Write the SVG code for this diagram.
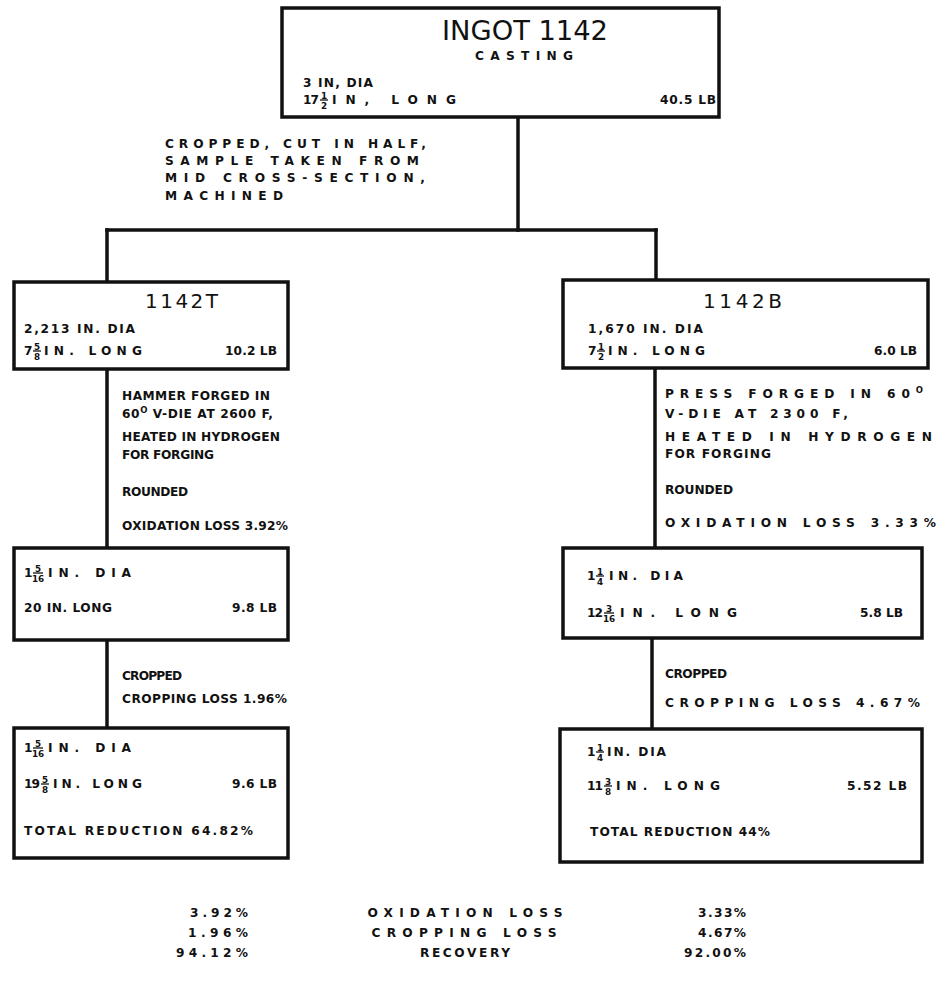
<svg xmlns="http://www.w3.org/2000/svg" width="940" height="997" viewBox="0 0 940 997">
  <style>
    .box { fill: #ffffff; stroke: #111111; stroke-width: 3.5; }
    .wire { fill: none; stroke: #111111; stroke-width: 3.5; stroke-linecap: square; }
    .bar { stroke: #111111; stroke-width: 1.3; }
    text { font-family: "DejaVu Sans", "Liberation Sans", sans-serif; fill: #111111; }
    .t { font-size: 12.2px; font-weight: bold; }
    .big { font-size: 26px; }
    .ttl { font-size: 20px; }
    .fr { font-size: 8.8px; font-weight: bold; text-anchor: middle; }
    .sup { font-size: 8.5px; }
    .end { text-anchor: end; }
    .mid { text-anchor: middle; }
  </style>

  <rect width="940" height="997" fill="#ffffff"/>

  <!-- connectors -->
  <g id="connectors">
    <path class="wire" d="M518 117 V230"/>
    <path class="wire" d="M107 230 H656"/>
    <path class="wire" d="M107 230 V282"/>
    <path class="wire" d="M656 230 V280"/>
    <path class="wire" d="M107 369 V548"/>
    <path class="wire" d="M107 640 V728"/>
    <path class="wire" d="M655 368 V548"/>
    <path class="wire" d="M652 638 V729"/>
  </g>

  <!-- ingot -->
  <g id="ingot-1142">
    <rect class="box" x="282" y="8" width="437" height="109"/>
    <text class="big mid" x="525" y="40" textLength="166" lengthAdjust="spacingAndGlyphs">INGOT 1142</text>
    <text class="t mid" x="524" y="60" textLength="98">CASTING</text>
    <text class="t" x="303" y="87" textLength="70">3 IN, DIA</text>
    <text class="t" x="303" y="104" textLength="16">17</text>
    <text class="fr" x="324" y="98.5">1</text>
    <line class="bar" x1="320" y1="100" x2="328" y2="100"/>
    <text class="fr" x="324" y="108.5">2</text>
    <text class="t" x="332" y="104" textLength="124">IN, LONG</text>
    <text class="t end" x="716" y="104" textLength="56">40.5 LB</text>
  </g>

  <!-- cut and machining step -->
  <g id="step-crop-cut">
    <text class="t" x="165" y="148" textLength="261">CROPPED, CUT IN HALF,</text>
    <text class="t" x="165" y="165" textLength="254">SAMPLE TAKEN FROM</text>
    <text class="t" x="165" y="182" textLength="260">MID CROSS-SECTION,</text>
    <text class="t" x="165" y="200" textLength="118">MACHINED</text>
  </g>

  <!-- top half -->
  <g id="half-1142T">
    <rect class="box" x="14" y="282" width="274" height="87"/>
    <text class="ttl" x="145" y="308" textLength="73">1142T</text>
    <text class="t" x="24" y="333" textLength="111">2,213 IN. DIA</text>
    <text class="t" x="24" y="355" textLength="8">7</text>
    <text class="fr" x="37" y="349.5">5</text>
    <line class="bar" x1="33" y1="351" x2="41" y2="351"/>
    <text class="fr" x="37" y="359.5">8</text>
    <text class="t" x="44" y="355" textLength="98">IN. LONG</text>
    <text class="t end" x="277" y="355" textLength="52">10.2 LB</text>
  </g>

  <g id="step-hammer-forge">
    <text class="t" x="122" y="400" textLength="148">HAMMER FORGED IN</text>
    <text class="t" x="122" y="418" textLength="151">60<tspan class="sup" dy="-5">O</tspan><tspan dy="5"> V-DIE AT 2600 F,</tspan></text>
    <text class="t" x="122" y="441" textLength="158">HEATED IN HYDROGEN</text>
    <text class="t" x="122" y="459" textLength="92">FOR FORGING</text>
    <text class="t" x="122" y="496" textLength="66">ROUNDED</text>
    <text class="t" x="122" y="530" textLength="166">OXIDATION LOSS 3.92%</text>
  </g>

  <g id="forged-1142T">
    <rect class="box" x="14" y="548" width="274" height="92"/>
    <text class="t" x="24" y="577" textLength="8">1</text>
    <text class="fr" x="38" y="571.5">5</text>
    <line class="bar" x1="33" y1="573" x2="43" y2="573"/>
    <text class="fr" x="38" y="581.5">16</text>
    <text class="t" x="48" y="577" textLength="83">IN. DIA</text>
    <text class="t" x="24" y="612" textLength="88">20 IN. LONG</text>
    <text class="t end" x="277" y="612" textLength="45">9.8 LB</text>
  </g>

  <g id="step-crop-T">
    <text class="t" x="122" y="680" textLength="60">CROPPED</text>
    <text class="t" x="122" y="703" textLength="165">CROPPING LOSS 1.96%</text>
  </g>

  <g id="final-1142T">
    <rect class="box" x="14" y="728" width="274" height="130"/>
    <text class="t" x="24" y="752" textLength="8">1</text>
    <text class="fr" x="38" y="746.5">5</text>
    <line class="bar" x1="33" y1="748" x2="43" y2="748"/>
    <text class="fr" x="38" y="756.5">16</text>
    <text class="t" x="48" y="752" textLength="83">IN. DIA</text>
    <text class="t" x="24" y="788" textLength="16">19</text>
    <text class="fr" x="45" y="782.5">5</text>
    <line class="bar" x1="41" y1="784" x2="49" y2="784"/>
    <text class="fr" x="45" y="792.5">8</text>
    <text class="t" x="53" y="788" textLength="89">IN. LONG</text>
    <text class="t end" x="277" y="788" textLength="45">9.6 LB</text>
    <text class="t" x="24" y="835" textLength="229">TOTAL REDUCTION 64.82%</text>
  </g>

  <!-- bottom half -->
  <g id="half-1142B">
    <rect class="box" x="563" y="280" width="365" height="88"/>
    <text class="ttl" x="703" y="308" textLength="79">1142B</text>
    <text class="t" x="588" y="333" textLength="115">1,670 IN. DIA</text>
    <text class="t" x="588" y="355" textLength="8">7</text>
    <text class="fr" x="601" y="349.5">1</text>
    <line class="bar" x1="597" y1="351" x2="605" y2="351"/>
    <text class="fr" x="601" y="359.5">2</text>
    <text class="t" x="608" y="355" textLength="97">IN. LONG</text>
    <text class="t end" x="917" y="355" textLength="43">6.0 LB</text>
  </g>

  <g id="step-press-forge">
    <text class="t" x="665" y="398" textLength="258">PRESS FORGED IN 60<tspan class="sup" dy="-5">O</tspan></text>
    <text class="t" x="665" y="418" textLength="183">V-DIE AT 2300 F,</text>
    <text class="t" x="665" y="441" textLength="267">HEATED IN HYDROGEN</text>
    <text class="t" x="665" y="458" textLength="106">FOR FORGING</text>
    <text class="t" x="665" y="494" textLength="68">ROUNDED</text>
    <text class="t" x="665" y="527" textLength="271">OXIDATION LOSS 3.33%</text>
  </g>

  <g id="forged-1142B">
    <rect class="box" x="563" y="548" width="359" height="90"/>
    <text class="t" x="587" y="580" textLength="8">1</text>
    <text class="fr" x="600" y="574.5">1</text>
    <line class="bar" x1="596" y1="576" x2="604" y2="576"/>
    <text class="fr" x="600" y="584.5">4</text>
    <text class="t" x="609" y="580" textLength="74">IN. DIA</text>
    <text class="t" x="587" y="617" textLength="16">12</text>
    <text class="fr" x="609" y="611.5">3</text>
    <line class="bar" x1="604" y1="613" x2="614" y2="613"/>
    <text class="fr" x="609" y="621.5">16</text>
    <text class="t" x="620" y="617" textLength="117">IN. LONG</text>
    <text class="t end" x="903" y="617" textLength="43">5.8 LB</text>
  </g>

  <g id="step-crop-B">
    <text class="t" x="665" y="678" textLength="62">CROPPED</text>
    <text class="t" x="665" y="707" textLength="255">CROPPING LOSS 4.67%</text>
  </g>

  <g id="final-1142B">
    <rect class="box" x="560" y="729" width="362" height="133"/>
    <text class="t" x="587" y="756" textLength="8">1</text>
    <text class="fr" x="600" y="750.5">1</text>
    <line class="bar" x1="596" y1="752" x2="604" y2="752"/>
    <text class="fr" x="600" y="760.5">4</text>
    <text class="t" x="607" y="756" textLength="59">IN. DIA</text>
    <text class="t" x="587" y="790" textLength="16">11</text>
    <text class="fr" x="608" y="784.5">3</text>
    <line class="bar" x1="604" y1="786" x2="612" y2="786"/>
    <text class="fr" x="608" y="794.5">8</text>
    <text class="t" x="616" y="790" textLength="104">IN. LONG</text>
    <text class="t end" x="907" y="790" textLength="60">5.52 LB</text>
    <text class="t" x="590" y="836" textLength="180">TOTAL REDUCTION 44%</text>
  </g>

  <!-- summary table -->
  <g id="summary">
    <text class="t end" x="248" y="917" textLength="58">3.92%</text>
    <text class="t end" x="248" y="937" textLength="60">1.96%</text>
    <text class="t end" x="248" y="957" textLength="72">94.12%</text>
    <text class="t mid" x="465" y="917" textLength="195">OXIDATION LOSS</text>
    <text class="t mid" x="464" y="937" textLength="185">CROPPING LOSS</text>
    <text class="t mid" x="465" y="957" textLength="90">RECOVERY</text>
    <text class="t end" x="746" y="917" textLength="48">3.33%</text>
    <text class="t end" x="746" y="937" textLength="48">4.67%</text>
    <text class="t end" x="746" y="957" textLength="62">92.00%</text>
  </g>
</svg>
